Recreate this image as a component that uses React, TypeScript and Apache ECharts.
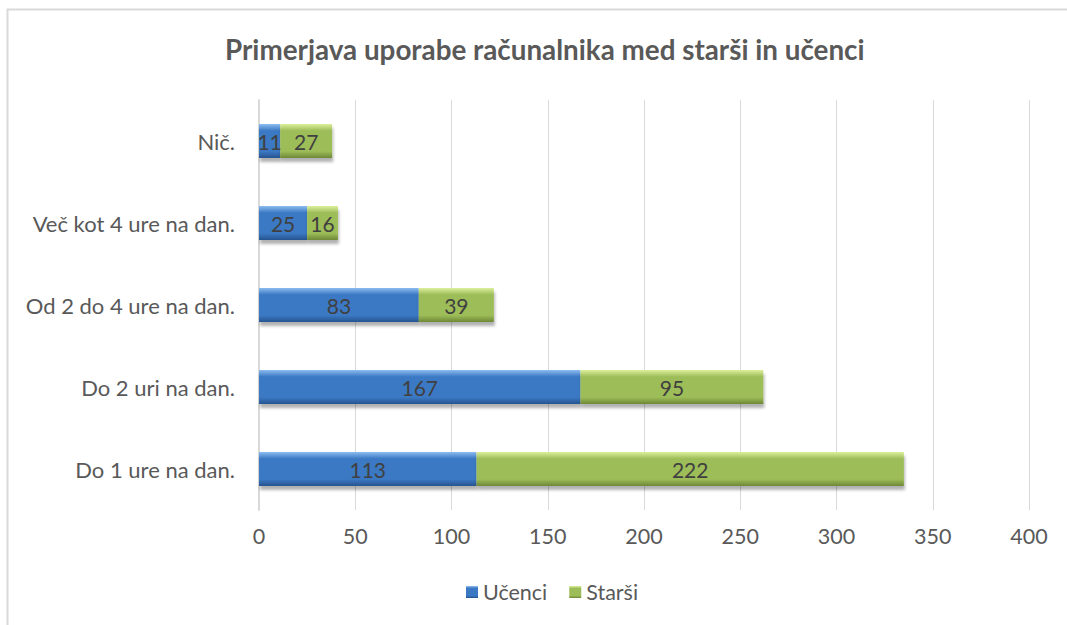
import React, { useEffect, useRef } from "react";
import * as echarts from "echarts";

const categories = [
  "Do 1 ure na dan.",
  "Do 2 uri na dan.",
  "Od 2 do 4 ure na dan.",
  "Več kot 4 ure na dan.",
  "Nič.",
];
const ucenci = [113, 167, 83, 25, 11];
const starsi = [222, 95, 39, 16, 27];
const xTicksMax = 400;
const xTickStep = 50;

const FONT = "Lato, 'Open Sans', sans-serif";

function grad(light: string, base: string, dark: string) {
  return new echarts.graphic.LinearGradient(0, 0, 0, 1, [
    { offset: 0, color: light },
    { offset: 0.2, color: base },
    { offset: 0.8, color: base },
    { offset: 1, color: dark },
  ]);
}

export default function App() {
  const ref = useRef<HTMLDivElement>(null);
  useEffect(() => {
    const chart = echarts.init(ref.current!, null, { renderer: "svg" });
    const labelStyle = {
      show: true,
      position: "inside",
      color: "#404040",
      fontSize: 21,
      fontFamily: FONT,
    };
    const shadow = {
      shadowColor: "rgba(0,0,0,0.3)",
      shadowBlur: 3,
      shadowOffsetY: 4,
      shadowOffsetX: 1,
    };
    chart.setOption({
      animation: false,
      backgroundColor: "#ffffff",
      title: {
        text: "Primerjava uporabe računalnika med starši in učenci",
        left: 220,
        top: 30,
        textStyle: {
          color: "#595959",
          fontSize: 27.8,
          fontWeight: "bold",
          fontFamily: FONT,
        },
      },
      legend: {
        bottom: 17,
        left: 461,
        itemWidth: 12,
        itemHeight: 12,
        itemGap: 22,
        icon: "rect",
        textStyle: { color: "#595959", fontSize: 21.5, fontFamily: FONT },
        data: ["Učenci", "Starši"],
      },
      grid: { left: 259, right: 38, top: 100, bottom: 115 },
      xAxis: {
        type: "value",
        min: 0,
        max: xTicksMax,
        interval: xTickStep,
        axisLine: { show: false },
        axisTick: { show: false },
        splitLine: { lineStyle: { color: "#d9d9d9", width: 1 } },
        axisLabel: {
          color: "#595959",
          fontSize: 21.5,
          fontFamily: FONT,
          margin: 15,
        },
      },
      yAxis: {
        type: "category",
        data: categories,
        axisLine: { show: true, lineStyle: { color: "#d9d9d9", width: 2 } },
        axisTick: { show: false },
        axisLabel: {
          color: "#595959",
          fontSize: 22,
          fontFamily: FONT,
          margin: 24,
        },
      },
      series: [
        {
          name: "Učenci",
          type: "bar",
          stack: "total",
          barWidth: 34,
          data: ucenci,
          label: labelStyle,
          itemStyle: {
            color: grad("#8cbcf0", "#3b79c4", "#25548f"),
            ...shadow,
          },
        },
        {
          name: "Starši",
          type: "bar",
          stack: "total",
          barWidth: 34,
          data: starsi,
          label: labelStyle,
          itemStyle: {
            color: grad("#dcef9c", "#9dbd58", "#6e8836"),
            ...shadow,
          },
        },
      ],
      graphic: [
        {
          type: "rect",
          shape: { x: 7.5, y: 9.5, width: 1100, height: 700 },
          style: { fill: "none", stroke: "#d9d9d9", lineWidth: 2 },
          silent: true,
          z: -1,
        },
      ],
    });
    return () => chart.dispose();
  }, []);
  return (
    <div
      ref={ref}
      style={{ position: "fixed", left: 0, top: 0, width: 1067, height: 625 }}
    />
  );
}
